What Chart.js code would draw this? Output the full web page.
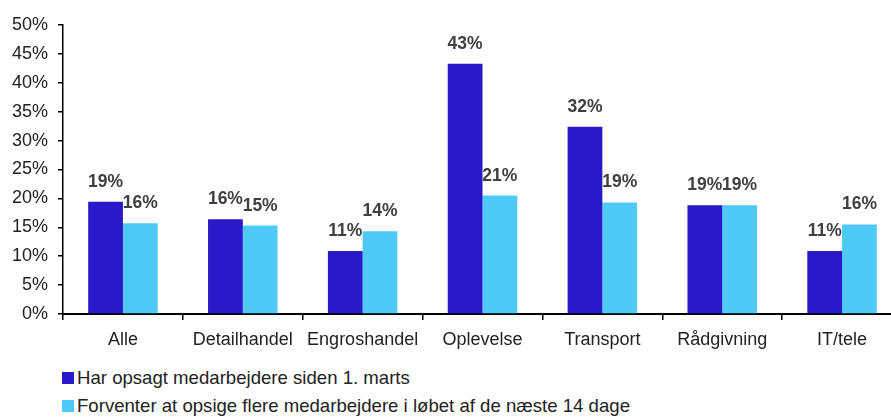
<!DOCTYPE html>
<html>
<head>
<meta charset="utf-8">
<script src="https://cdn.jsdelivr.net/npm/chart.js@4/dist/chart.umd.min.js"></script>
<style>
  html, body { margin: 0; padding: 0; background: #fff; overflow: hidden; }
  #wrap { position: relative; width: 891px; height: 417px; overflow: hidden; }
  #chart { position: absolute; left: 0; top: 0; }
  #legend { position: absolute; left: 62px; top: 364px; font-family: "Liberation Sans", Arial, sans-serif; font-size: 18.6px; color: #222; }
  #legend .item { display: flex; align-items: center; height: 28px; }
  #legend .box { width: 12px; height: 12px; margin-right: 3px; }
</style>
</head>
<body>
<div id="wrap">
  <canvas id="chart" width="912" height="360"></canvas>
  <div id="legend"></div>
</div>
<script>
// Categories and series
const categories = ['Alle', 'Detailhandel', 'Engroshandel', 'Oplevelse', 'Transport', 'Rådgivning', 'IT/tele'];
const opsagt = [19.4, 16.4, 10.9, 43.3, 32.4, 18.8, 10.9];
const forventer = [15.7, 15.3, 14.3, 20.5, 19.3, 18.8, 15.5];
const seriesNames = [
  'Har opsagt medarbejdere siden 1. marts',
  'Forventer at opsige flere medarbejdere i løbet af de næste 14 dage'
];
const seriesColors = ['#2A19C8', '#4FC9F8'];
const yMax = 50;
const yStep = 5;

const font = "'Liberation Sans', Arial, sans-serif";

// Labels above each bar
const barLabels = {
  id: 'barLabels',
  afterDatasetsDraw(chart) {
    const c = chart.ctx;
    c.save();
    c.font = 'bold 17.5px ' + font;
    c.fillStyle = '#404040';
    c.textAlign = 'center';
    c.textBaseline = 'alphabetic';
    chart.data.datasets.forEach((ds, i) => {
      chart.getDatasetMeta(i).data.forEach((bar, j) => {
        c.fillText(Math.round(ds.data[j]) + '%', bar.x, bar.y - 15);
      });
    });
    c.restore();
  }
};

const ctx = document.getElementById('chart').getContext('2d');
const chart = new Chart(ctx, {
  type: 'bar',
  data: {
    labels: categories,
    datasets: [
      { label: seriesNames[0], data: opsagt, backgroundColor: seriesColors[0] },
      { label: seriesNames[1], data: forventer, backgroundColor: seriesColors[1] }
    ]
  },
  options: {
    responsive: false,
    animation: false,
    devicePixelRatio: 1,
    layout: { padding: { top: 25, right: 10, left: 0, bottom: 0 } },
    datasets: { bar: { barPercentage: 1, categoryPercentage: 0.58 } },
    plugins: { legend: { display: false }, tooltip: { enabled: false } },
    scales: {
      x: {
        grid: { drawOnChartArea: false, drawTicks: true, tickLength: 6, color: '#000', lineWidth: 1.5 },
        border: { display: true, color: '#000', width: 2 },
        ticks: { color: '#222', font: { family: font, size: 18 }, padding: 9, maxRotation: 0 },
        afterFit(scale) { scale.height = 46; }
      },
      y: {
        min: 0,
        max: yMax,
        grid: { drawOnChartArea: false, drawTicks: true, tickLength: 5, color: '#000', lineWidth: 1.5 },
        border: { display: true, color: '#000', width: 1.5 },
        ticks: {
          stepSize: yStep,
          color: '#222',
          font: { family: font, size: 18 },
          padding: 10,
          callback: v => v + '%'
        },
        afterFit(scale) { scale.width = 63; }
      }
    }
  },
  plugins: [barLabels]
});

// Legend below the chart
const legend = document.getElementById('legend');
seriesNames.forEach((name, i) => {
  const item = document.createElement('div');
  item.className = 'item';
  const box = document.createElement('span');
  box.className = 'box';
  box.style.background = seriesColors[i];
  const txt = document.createElement('span');
  txt.textContent = name;
  item.appendChild(box);
  item.appendChild(txt);
  legend.appendChild(item);
});
</script>
</body>
</html>
